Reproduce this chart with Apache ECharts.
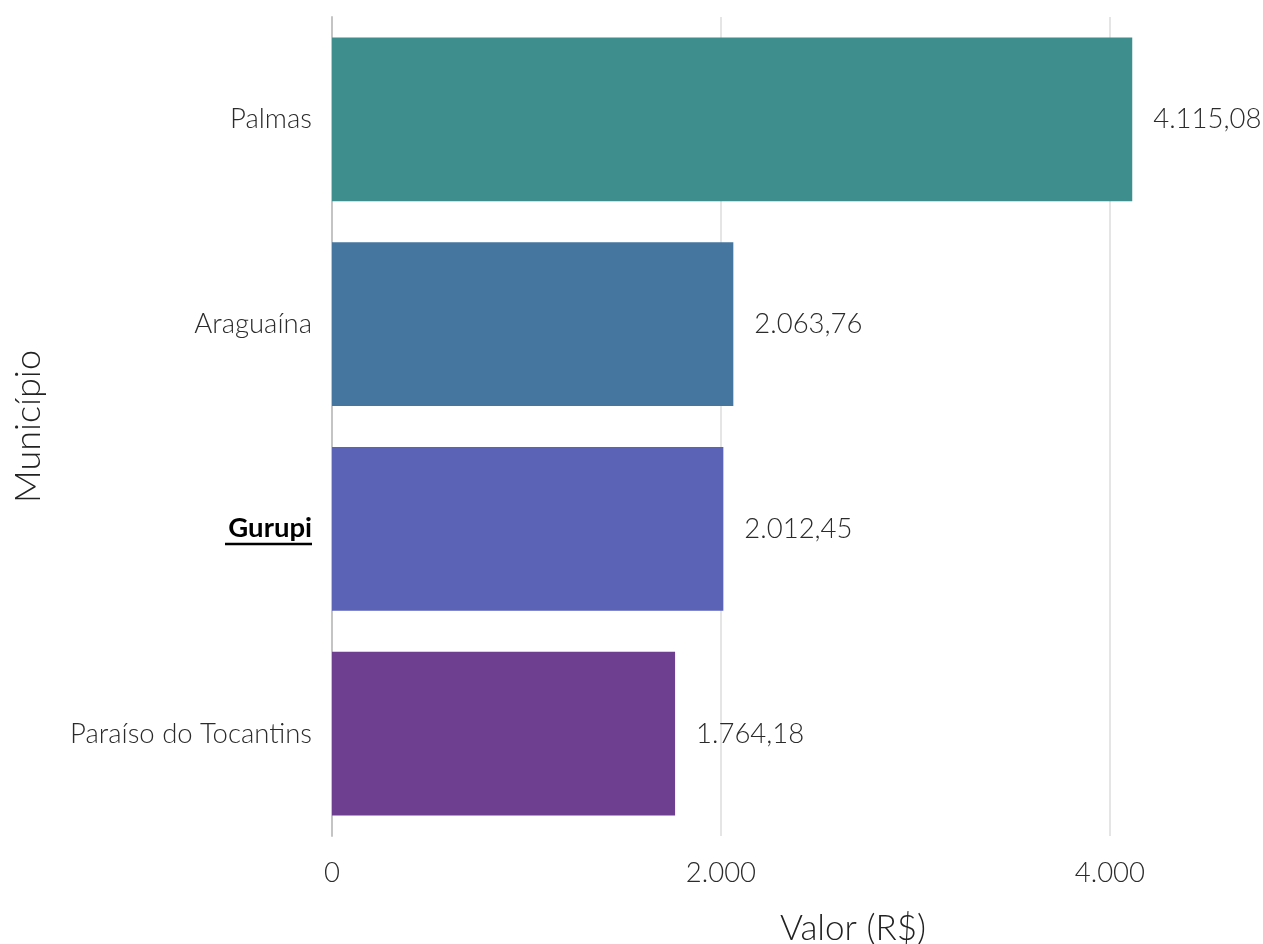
<!DOCTYPE html>
<html><head><meta charset="utf-8">
<script src="https://cdn.jsdelivr.net/npm/echarts@6/dist/echarts.min.js"></script>
<style>html,body{margin:0;padding:0;background:#fff}#c{width:1263px;height:944px}</style>
</head><body><div id="c"></div>
<script>
const categories = ['Palmas', 'Araguaína', 'Gurupi', 'Paraíso do Tocantins'];
const values = [4115.08, 2063.76, 2012.45, 1764.18];
const barColors = ['#3F8E8E', '#44769F', '#5B63B7', '#6E3F91'];
const highlight = 'Gurupi';
const xTicks = [0, 2000, 4000];

function fmt(v, dec) {
  return v.toLocaleString('pt-BR', {minimumFractionDigits: dec, maximumFractionDigits: dec});
}
const font = 'Lato';
const txt = '#2b2b2b';
const chart = echarts.init(document.getElementById('c'));
chart.setOption({
  animation: false,
  backgroundColor: '#fff',
  grid: {left: 332, top: 17, width: 914, height: 819, containLabel: false, outerBoundsMode: 'none'},
  xAxis: {
    type: 'value', min: 0, max: 4700, interval: 2000,
    name: 'Valor (R$)', nameLocation: 'middle', nameGap: 75,
    nameTextStyle: {fontFamily: font, fontWeight: 300, fontSize: 35, color: '#222', padding: [0, 0, 0, 128]},
    axisLine: {show: false}, axisTick: {show: false},
    axisLabel: {fontFamily: font, fontWeight: 300, fontSize: 27.5, color: txt, margin: 23,
      showMaxLabel: false,
      formatter: v => xTicks.includes(v) ? fmt(v, 0) : ''},
    splitLine: {show: true, showMaxLine: false, lineStyle: {color: '#dcdcdc', width: 1.5}}
  },
  yAxis: {
    type: 'category', data: categories, inverse: true,
    name: 'Município', nameLocation: 'middle', nameGap: 286,
    nameTextStyle: {fontFamily: font, fontWeight: 300, fontSize: 36, color: '#222'},
    axisLine: {show: true, lineStyle: {color: '#c4c4c4', width: 2}},
    axisTick: {show: false},
    axisLabel: {
      fontFamily: font, fontWeight: 300, fontSize: 27.5, color: txt, margin: 20,
      formatter: v => v === highlight ? '{b|' + v + '}\n{u|}' : v,
      rich: {
        b: {fontFamily: font, fontWeight: 'bold', fontSize: 27.5, color: '#000', lineHeight: 30, align: 'right'},
        u: {width: 87, height: 2.5, backgroundColor: '#000', align: 'right'}
      }
    }
  },
  series: [{
    type: 'bar',
    data: values.map((v, i) => ({value: v, itemStyle: {color: barColors[i]}})),
    barCategoryGap: '20%',
    label: {show: true, position: 'right', distance: 21, fontFamily: font, fontWeight: 300, fontSize: 27.5, color: txt,
      formatter: p => fmt(p.value, 2)}
  }]
});
</script></body></html>
